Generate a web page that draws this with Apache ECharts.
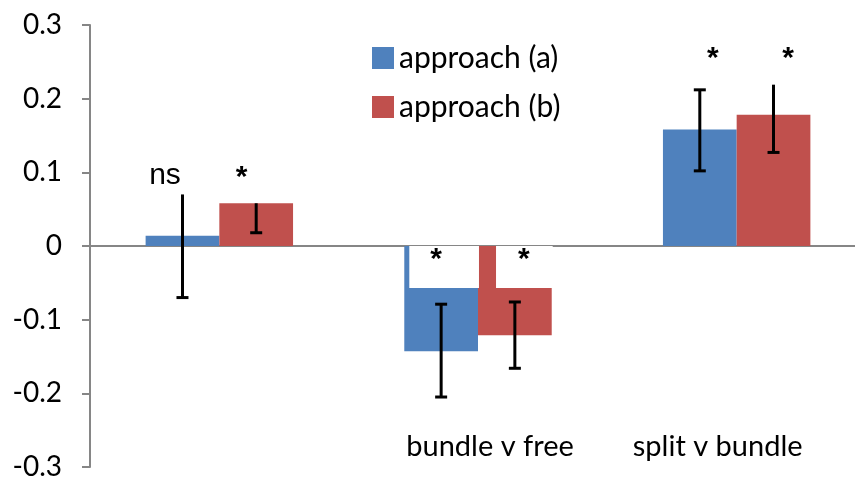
<!DOCTYPE html>
<html>
<head>
<meta charset="utf-8">
<script src="https://cdn.jsdelivr.net/npm/echarts@6/dist/echarts.min.js"></script>
<style>
  html, body { margin: 0; padding: 0; background: #fff; }
  #chart { width: 855px; height: 479px; }
</style>
</head>
<body>
<div id="chart"></div>
<script>
// data
var categories = ['', 'bundle v free', 'split v bundle'];
var seriesNames = ['approach (a)', 'approach (b)'];
var valuesA = [0.014, -0.143, 0.158];
var valuesB = [0.058, -0.121, 0.178];
// error bar ends
var errHighA = [0.070, -0.079, 0.212];
var errLowA = [-0.070, -0.205, 0.102];
var errHighB = [0.058, -0.076, 0.219];
var errLowB = [0.018, -0.166, 0.127];
var topCapA = [false, true, true];
var topCapB = [false, true, false];
// significance marks
var sigA = ['ns', '*', '*'];
var sigB = ['*', '*', '*'];
var yTicks = [-0.3, -0.2, -0.1, 0, 0.1, 0.2, 0.3];

var FONT = 'Lato';
var SIGFONT = 'Liberation Sans';
var blue = '#4F81BD', red = '#C0504D', gray = '#868686';

// label placement per bar (the excel data labels were dragged by hand)
var labelStyleA = [
  {position: 'top', distance: 48, offset: [-17.5, 0]},
  {position: 'insideTop', distance: 0, offset: [3, 0], backgroundColor: '#fff', padding: [2, 37, 16, 21]},
  {position: 'top', distance: 59, offset: [13, 0]}
];
var labelStyleB = [
  {position: 'top', distance: 13.5, offset: [-14.5, 0]},
  {position: 'insideTop', distance: 0, offset: [9.5, 0], backgroundColor: '#fff', padding: [2, 23, 16, 22]},
  {position: 'top', distance: 44, offset: [14.5, 0]}
];

function barData(values, sig, styles) {
  return values.map(function (v, i) {
    var l = Object.assign({
      show: true, formatter: sig[i], color: '#000', fontSize: 30, lineHeight: 24,
      fontFamily: SIGFONT, fontWeight: sig[i] === '*' ? 'bold' : 'normal'
    }, styles[i]);
    return {value: v, label: l};
  });
}

function errData(high, low, caps) {
  return high.map(function (h, i) { return [i, h, low[i], caps[i] ? 1 : 0]; });
}

var GAP = 0.43;
function errRender(side) {
  return function (params, api) {
    var band = api.size([1, 0])[0];
    var barW = band * (1 - GAP) / 2;
    var top = api.coord([api.value(0), api.value(1)]);
    var bot = api.coord([api.value(0), api.value(2)]);
    var x = top[0] + side * barW / 2;
    var capW = 12;
    var st = {stroke: '#000', lineWidth: 3};
    var kids = [
      {type: 'line', shape: {x1: x, y1: top[1], x2: x, y2: bot[1]}, style: st},
      {type: 'line', shape: {x1: x - capW / 2, y1: bot[1], x2: x + capW / 2, y2: bot[1]}, style: st}
    ];
    if (api.value(3)) {
      kids.push({type: 'line', shape: {x1: x - capW / 2, y1: top[1], x2: x + capW / 2, y2: top[1]}, style: st});
    }
    return {type: 'group', children: kids};
  };
}

var chart = echarts.init(document.getElementById('chart'));
chart.setOption({
  animation: false,
  textStyle: {fontFamily: FONT},
  grid: {left: 90, width: 776, top: 25, bottom: 12, containLabel: false, outerBoundsMode: 'none'},
  legend: {
    data: seriesNames,
    orient: 'vertical',
    left: 367,
    top: 38,
    icon: 'rect',
    itemWidth: 22,
    itemHeight: 22,
    itemGap: 19,
    textStyle: {fontSize: 30, fontFamily: FONT, color: '#000', lineHeight: 30}
  },
  xAxis: [
    {
      type: 'category',
      data: categories,
      position: 'bottom',
      axisLine: {show: false, onZero: false},
      axisTick: {show: false},
      axisLabel: {
        inside: true, margin: 6, interval: 0, hideOverlap: false, fontSize: 29, fontFamily: FONT, color: '#000',
        formatter: function (v, i) { return i === 1 ? '{a|' + v + '}' : (i === 2 ? '{b|' + v + '}' : v); },
        rich: {
          a: {fontSize: 29, fontFamily: FONT, color: '#000', padding: [0, 0, 0, 24]},
          b: {fontSize: 29, fontFamily: FONT, color: '#000', padding: [0, 38, 0, 0]}
        }
      }
    },
    {
      type: 'category',
      data: categories,
      axisLine: {show: true, onZero: true, lineStyle: {color: gray, width: 2}},
      axisTick: {show: false},
      axisLabel: {show: false}
    }
  ],
  yAxis: {
    type: 'value',
    min: yTicks[0],
    max: yTicks[yTicks.length - 1],
    interval: 0.1,
    splitLine: {show: false},
    axisLine: {show: true, lineStyle: {color: gray, width: 2}},
    axisTick: {show: true, length: 8, lineStyle: {color: gray, width: 2}},
    axisLabel: {margin: 28, fontSize: 28, fontFamily: FONT, color: '#000'}
  },
  series: [
    {
      name: seriesNames[0], type: 'bar', data: barData(valuesA, sigA, labelStyleA),
      itemStyle: {color: blue}, barGap: 0, barCategoryGap: (GAP * 100) + '%'
    },
    {
      name: seriesNames[1], type: 'bar', data: barData(valuesB, sigB, labelStyleB),
      itemStyle: {color: red}, barGap: 0, barCategoryGap: (GAP * 100) + '%'
    },
    {
      type: 'custom', renderItem: errRender(-1), data: errData(errHighA, errLowA, topCapA),
      encode: {x: 0, y: [1, 2]}, z: 5, silent: true
    },
    {
      type: 'custom', renderItem: errRender(1), data: errData(errHighB, errLowB, topCapB),
      encode: {x: 0, y: [1, 2]}, z: 5, silent: true
    }
  ]
});
</script>
</body>
</html>
